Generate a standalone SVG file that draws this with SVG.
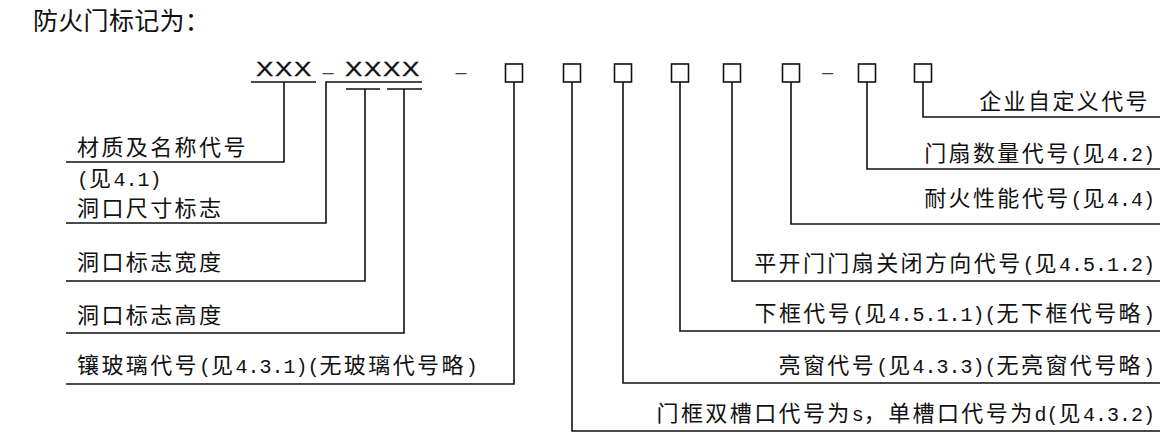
<svg xmlns="http://www.w3.org/2000/svg" width="1173" height="440" viewBox="0 0 1173 440">
<style>
.t{font-family:"Noto Sans CJK SC","Noto Sans",sans-serif;font-size:22px;letter-spacing:2.4px;fill:#111}
.a{font-family:"Liberation Mono","DejaVu Sans Mono",monospace;font-size:20px;letter-spacing:0px}
.title{font-family:"Noto Sans CJK SC",sans-serif;font-size:25px;letter-spacing:0.3px;fill:#111}
.x{font-family:"Liberation Sans",Arial,sans-serif;font-size:20px;letter-spacing:1.3px;fill:#111;stroke:#111;stroke-width:0.3}
.d{font-family:"Liberation Sans",Arial,sans-serif;font-size:20px;fill:#444;text-anchor:middle}
.box{fill:#fff;stroke:#111;stroke-width:1.6}
.ln{fill:none;stroke:#111;stroke-width:1.6}
.r{text-anchor:end}
</style>
<rect width="1173" height="440" fill="#fff"/>
<text class="title" x="33" y="30">防火门标记为：</text>

<g id="code">
<text class="x" transform="translate(256,76) scale(1.3,1)">XXX</text>
<text class="d" x="328" y="79">–</text>
<text class="x" transform="translate(345,76) scale(1.3,1)">XXXX</text>
<text class="d" x="461" y="79">–</text>
<text class="d" x="827.5" y="79">–</text>
</g>

<g id="boxes">
<rect id="box1" class="box" x="505.5" y="64" width="17" height="18"/>
<rect id="box2" class="box" x="563.5" y="64" width="17" height="18"/>
<rect id="box3" class="box" x="614.5" y="64" width="17" height="18"/>
<rect id="box4" class="box" x="671.5" y="64" width="17" height="18"/>
<rect id="box5" class="box" x="723.5" y="64" width="17" height="18"/>
<rect id="box6" class="box" x="782.5" y="64" width="17" height="18"/>
<rect id="box7" class="box" x="858.5" y="64" width="17" height="18"/>
<rect id="box8" class="box" x="914.5" y="64" width="17" height="18"/>
</g>

<g id="connectors">
<path class="ln" d="M251 82H316M284 82V162H66"/>
<path class="ln" d="M422 82H326V223H66"/>
<path class="ln" d="M346 89H380M365 89V281H66"/>
<path class="ln" d="M387 89H422M404 89V333H66"/>
<path class="ln" d="M514 82V384H66"/>
<path class="ln" d="M923 82V117H1160"/>
<path class="ln" d="M867 82V169H1160"/>
<path class="ln" d="M791 82V224H1160"/>
<path class="ln" d="M732 82V281H1160"/>
<path class="ln" d="M680 82V331H1160"/>
<path class="ln" d="M623 82V383H1160"/>
<path class="ln" d="M572 82V431H1160"/>
</g>

<g id="label-material">
<text class="t" x="77" y="155">材质及名称代号</text>
<text class="t" x="77" y="186"><tspan class="a">(</tspan>见<tspan class="a">4.1)</tspan></text>
</g>
<g id="label-size"><text class="t" x="77" y="216">洞口尺寸标志</text></g>
<g id="label-width"><text class="t" x="77" y="270">洞口标志宽度</text></g>
<g id="label-height"><text class="t" x="77" y="323">洞口标志高度</text></g>
<g id="label-glass"><text class="t" x="77" y="373">镶玻璃代号<tspan class="a">(</tspan>见<tspan class="a">4.3.1)(</tspan>无玻璃代号略<tspan class="a">)</tspan></text></g>

<g id="label-custom"><text class="t r" x="1150" y="109">企业自定义代号</text></g>
<g id="label-leaf"><text class="t r" x="1155" y="161">门扇数量代号<tspan class="a">(</tspan>见<tspan class="a">4.2)</tspan></text></g>
<g id="label-fire"><text class="t r" x="1155" y="206">耐火性能代号<tspan class="a">(</tspan>见<tspan class="a">4.4)</tspan></text></g>
<g id="label-close"><text class="t r" x="1155" y="271">平开门门扇关闭方向代号<tspan class="a">(</tspan>见<tspan class="a">4.5.1.2)</tspan></text></g>
<g id="label-sill"><text class="t r" x="1155" y="321">下框代号<tspan class="a">(</tspan>见<tspan class="a">4.5.1.1)(</tspan>无下框代号略<tspan class="a">)</tspan></text></g>
<g id="label-transom"><text class="t r" x="1155" y="373">亮窗代号<tspan class="a">(</tspan>见<tspan class="a">4.3.3)(</tspan>无亮窗代号略<tspan class="a">)</tspan></text></g>
<g id="label-frame"><text class="t r" x="1155" y="421">门框双槽口代号为<tspan class="a">s</tspan>，单槽口代号为<tspan class="a">d(</tspan>见<tspan class="a">4.3.2)</tspan></text></g>
</svg>
